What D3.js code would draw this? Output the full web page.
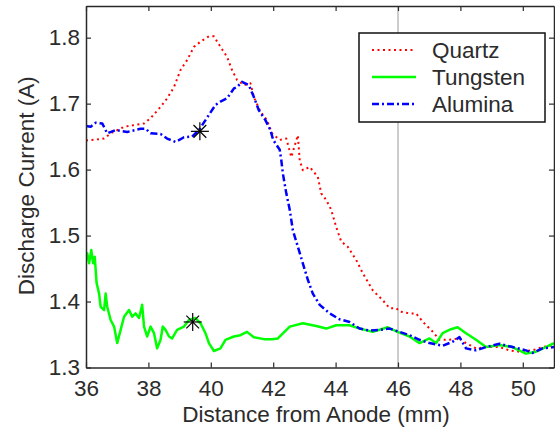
<!DOCTYPE html>
<html lang="en">
<head>
    <meta charset="UTF-8">
    <title>Discharge Current</title>
    <style>
        body { margin: 0; background: #fff; }
        text { font-family: "Liberation Sans", Arial, sans-serif; fill: #2b2b2b; }
    </style>
</head>
<body>
<script src="https://d3js.org/d3.v7.min.js"></script>
<script>
    // Set Dimensions
    const width = 555;
    const height = 432;
    const plotLeft = 86, plotRight = 554, plotTop = 6, plotBottom = 367.5;
    const fontSize = "22.5px";

    const xTicks = [36, 38, 40, 42, 44, 46, 48, 50];
    const yTicks = [1.3, 1.4, 1.5, 1.6, 1.7, 1.8];
    const markerLine = 46;

    // [distance (mm), current (A)]
    const quartz = [
        [36.00, 1.644], [36.58, 1.647], [36.79, 1.655], [37.23, 1.665], [37.86, 1.670],
        [38.07, 1.678], [38.39, 1.695], [38.60, 1.708], [38.82, 1.725], [39.03, 1.751],
        [39.24, 1.766], [39.46, 1.786], [39.67, 1.794], [39.94, 1.802], [40.10, 1.802],
        [40.31, 1.786], [40.52, 1.771], [40.68, 1.751], [40.84, 1.736], [41.06, 1.728],
        [41.27, 1.731], [41.38, 1.710], [41.59, 1.688], [41.80, 1.675], [41.96, 1.655],
        [42.21, 1.645], [42.42, 1.647], [42.58, 1.619], [42.79, 1.652], [42.85, 1.614],
        [42.95, 1.599], [43.17, 1.604], [43.43, 1.589], [43.54, 1.564], [43.70, 1.554],
        [43.86, 1.539], [44.02, 1.513], [44.18, 1.491], [44.39, 1.483], [44.66, 1.463],
        [44.87, 1.443], [45.19, 1.417], [45.51, 1.402], [45.73, 1.390], [45.94, 1.390],
        [46.05, 1.385], [46.37, 1.382], [46.58, 1.382], [46.80, 1.369], [47.12, 1.354],
        [47.33, 1.342], [47.65, 1.342], [47.97, 1.344], [48.18, 1.337], [48.50, 1.329],
        [48.82, 1.331], [49.25, 1.331], [49.57, 1.326], [49.89, 1.324], [50.31, 1.326],
        [50.63, 1.331], [51.00, 1.334]
    ];

    const tungsten = [
        [36.00, 1.463], [36.04, 1.473], [36.10, 1.458], [36.17, 1.478], [36.23, 1.458],
        [36.28, 1.468], [36.34, 1.428], [36.42, 1.412], [36.47, 1.392], [36.58, 1.387],
        [36.63, 1.412], [36.68, 1.392], [36.79, 1.372], [36.90, 1.362], [37.00, 1.337],
        [37.11, 1.357], [37.22, 1.377], [37.38, 1.387], [37.48, 1.377], [37.59, 1.382],
        [37.70, 1.375], [37.80, 1.395], [37.86, 1.362], [37.96, 1.347], [38.07, 1.362],
        [38.18, 1.352], [38.28, 1.329], [38.39, 1.342], [38.46, 1.362], [38.55, 1.357],
        [38.66, 1.347], [38.76, 1.344], [38.92, 1.357], [39.14, 1.362], [39.30, 1.372],
        [39.51, 1.375], [39.67, 1.367], [39.83, 1.352], [39.94, 1.337], [40.10, 1.325],
        [40.31, 1.329], [40.47, 1.342], [40.74, 1.347], [40.95, 1.349], [41.16, 1.354],
        [41.38, 1.346], [41.70, 1.343], [41.96, 1.343], [42.15, 1.344], [42.53, 1.362],
        [42.95, 1.367], [43.38, 1.363], [43.70, 1.359], [44.02, 1.364], [44.45, 1.364],
        [44.77, 1.359], [45.19, 1.354], [45.67, 1.361], [45.99, 1.354], [46.37, 1.347],
        [46.69, 1.337], [47.01, 1.344], [47.22, 1.337], [47.43, 1.352], [47.70, 1.358],
        [47.91, 1.361], [48.18, 1.352], [48.50, 1.342], [48.82, 1.331], [49.25, 1.334],
        [49.67, 1.331], [50.10, 1.321], [50.42, 1.324], [50.74, 1.331], [51.00, 1.337]
    ];

    const alumina = [
        [36.00, 1.666], [36.15, 1.665], [36.31, 1.671], [36.52, 1.670], [36.68, 1.655],
        [36.95, 1.660], [37.32, 1.657], [37.75, 1.662], [37.91, 1.662], [38.07, 1.655],
        [38.39, 1.654], [38.60, 1.647], [38.87, 1.642], [39.14, 1.649], [39.40, 1.650],
        [39.62, 1.660], [39.83, 1.675], [39.94, 1.683], [40.15, 1.698], [40.31, 1.703],
        [40.52, 1.708], [40.74, 1.723], [40.84, 1.725], [41.00, 1.733], [41.22, 1.728],
        [41.38, 1.710], [41.54, 1.690], [41.75, 1.675], [41.91, 1.660], [42.00, 1.645],
        [42.21, 1.630], [42.26, 1.614], [42.31, 1.594], [42.42, 1.564], [42.53, 1.539],
        [42.63, 1.508], [42.79, 1.483], [42.95, 1.458], [43.11, 1.433], [43.27, 1.412],
        [43.49, 1.395], [43.81, 1.382], [44.13, 1.373], [44.45, 1.369], [44.77, 1.359],
        [45.09, 1.356], [45.41, 1.357], [45.73, 1.359], [46.05, 1.354], [46.37, 1.349],
        [46.69, 1.342], [47.01, 1.337], [47.43, 1.333], [47.75, 1.339], [47.97, 1.346],
        [48.18, 1.329], [48.50, 1.326], [48.82, 1.331], [49.25, 1.336], [49.67, 1.331],
        [50.10, 1.326], [50.31, 1.322], [50.63, 1.329], [51.00, 1.331]
    ];

    // asterisk markers
    const stars = [[39.65, 1.658], [39.42, 1.369]];

    const series = [
        {name: "Quartz", data: quartz, color: "#ff0000", width: 2, dash: "2,3.5"},
        {name: "Tungsten", data: tungsten, color: "#00ff00", width: 2.5, dash: null},
        {name: "Alumina", data: alumina, color: "#0000ff", width: 2.5, dash: "7,3,2,3"}
    ];

    const svg = d3.select("body").append("svg")
        .attr("width", width)
        .attr("height", height);

    const x = d3.scaleLinear().domain([36, 51]).range([plotLeft, plotRight]);
    const y = d3.scaleLinear().domain([1.3, 1.848]).range([plotBottom, plotTop]);

    svg.append("clipPath").attr("id", "plot-clip")
        .append("rect")
        .attr("x", plotLeft).attr("y", plotTop)
        .attr("width", plotRight - plotLeft).attr("height", plotBottom - plotTop);

    // gray reference line
    svg.append("line")
        .attr("x1", x(markerLine)).attr("x2", x(markerLine))
        .attr("y1", plotTop).attr("y2", plotBottom)
        .attr("stroke", "#bdbdbd")
        .attr("stroke-width", 1.5);

    const line = d3.line()
        .x(d => x(d[0]))
        .y(d => y(d[1]));

    const plot = svg.append("g").attr("clip-path", "url(#plot-clip)");

    series.forEach(s => {
        plot.append("path")
            .datum(s.data)
            .attr("fill", "none")
            .attr("stroke", s.color)
            .attr("stroke-width", s.width)
            .attr("stroke-dasharray", s.dash)
            .attr("stroke-linejoin", "round")
            .attr("d", line);
    });

    // asterisks
    const star = svg.append("g");
    stars.forEach(p => {
        const cx = x(p[0]), cy = y(p[1]), r = 9;
        const g = star.append("g").attr("transform", `translate(${cx},${cy})`)
            .attr("stroke", "#000").attr("stroke-width", 1.2);
        [0, 45, 90, 135].forEach(a => {
            const t = a * Math.PI / 180;
            g.append("line")
                .attr("x1", -r * Math.cos(t)).attr("y1", -r * Math.sin(t))
                .attr("x2", r * Math.cos(t)).attr("y2", r * Math.sin(t));
        });
    });

    // Axes
    const axisColor = "#2a2a2a";
    function styleAxis(g) {
        g.select(".domain").attr("stroke", axisColor).attr("stroke-width", 1.5);
        g.selectAll(".tick line").attr("stroke", axisColor).attr("stroke-width", 1.2);
        g.selectAll(".tick text")
            .attr("fill", "#2b2b2b")
            .style("font-family", "'Liberation Sans', Arial, sans-serif")
            .style("font-size", fontSize);
    }

    svg.append("g")
        .attr("transform", `translate(0,${plotBottom})`)
        .call(d3.axisBottom(x).tickValues(xTicks).tickSizeInner(-5).tickSizeOuter(0).tickPadding(13))
        .call(styleAxis);

    svg.append("g")
        .attr("transform", `translate(0,${plotTop})`)
        .call(d3.axisTop(x).tickValues(xTicks).tickSizeInner(-5).tickSizeOuter(0).tickFormat(""))
        .call(styleAxis);

    svg.append("g")
        .attr("transform", `translate(${plotLeft},0)`)
        .call(d3.axisLeft(y).tickValues(yTicks).tickSizeInner(-5).tickSizeOuter(0).tickPadding(6).tickFormat(d3.format(".1f")))
        .call(styleAxis);

    svg.append("g")
        .attr("transform", `translate(${plotRight},0)`)
        .call(d3.axisRight(y).tickValues(yTicks).tickSizeInner(-5).tickSizeOuter(0).tickFormat(""))
        .call(styleAxis);

    // Axis labels
    svg.append("text")
        .attr("x", (plotLeft + plotRight) / 2 - 4)
        .attr("y", 422)
        .attr("text-anchor", "middle")
        .style("font-size", fontSize)
        .text("Distance from Anode (mm)");

    svg.append("text")
        .attr("transform", `translate(34,${(plotTop + plotBottom) / 2 - 1}) rotate(-90)`)
        .attr("text-anchor", "middle")
        .style("font-size", fontSize)
        .text("Discharge Current (A)");

    // Legend
    const legend = svg.append("g");
    legend.append("rect")
        .attr("x", 359).attr("y", 33)
        .attr("width", 186).attr("height", 89)
        .attr("fill", "#fff")
        .attr("stroke", "#111")
        .attr("stroke-width", 1.5);

    series.forEach((s, i) => {
        const ly = 50 + i * 27;
        legend.append("line")
            .attr("x1", 372).attr("x2", 416)
            .attr("y1", ly).attr("y2", ly)
            .attr("stroke", s.color)
            .attr("stroke-width", s.width)
            .attr("stroke-dasharray", s.dash);
        legend.append("text")
            .attr("x", 432).attr("y", ly)
            .attr("dy", "0.36em")
            .style("font-size", fontSize)
            .text(s.name);
    });
</script>
</body>
</html>
